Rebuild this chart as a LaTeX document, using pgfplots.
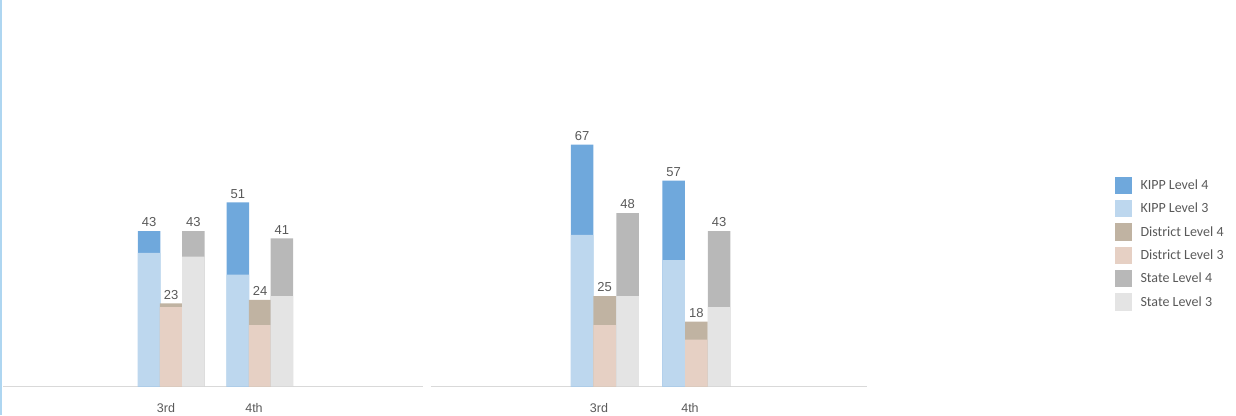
\documentclass[border=0pt]{standalone}
\usepackage{fontspec}
\setmainfont{Liberation Sans}
\newfontfamily\legfont{Carlito}
\usepackage{pgfplots}
\usepackage{pgfplotstable}
\pgfplotsset{compat=1.18}

\definecolor{kippfour}{HTML}{6FA8DC}
\definecolor{kippthree}{HTML}{BDD7EE}
\definecolor{distfour}{HTML}{C0B3A2}
\definecolor{distthree}{HTML}{E6D0C4}
\definecolor{statefour}{HTML}{B8B8B8}
\definecolor{statethree}{HTML}{E4E4E4}
\definecolor{txtgray}{HTML}{595959}
\definecolor{baseline}{HTML}{D9D9D9}
\definecolor{edgeblue}{HTML}{AED6F1}

% x = bar centre (px), level 3 and total (level 3 + level 4)
\pgfplotstableread{
kx     k3 kt  dx     d3 dt  sx     s3 st
149.2  37 43  171.2  22 23  193.3  36 43
237.8  31 51  260.0  17 24  281.8  25 41
}\leftdata
\pgfplotstableread{
kx     k3 kt  dx     d3 dt  sx     s3 st
582.0  42 67  604.7  17 25  627.7  25 48
673.7  35 57  696.3  13 18  719.2  22 43
}\rightdata

\pgfplotsset{
  panel/.style={
    scale only axis, height=386pt, ymin=0, ymax=106.9,
    axis x line=bottom, hide y axis,
    x axis line style={draw=baseline, line width=1pt, -},
    major tick length=0pt, clip=false,
    xticklabel style={font=\fontsize{12.5}{14}\selectfont, text=txtgray, anchor=base, yshift=-25.5pt},
    /pgf/number format/assume math mode=true,
  },
  bar/.style={ybar, bar width=22.5, bar shift=0pt, draw=none, fill=#1,
    legend image code/.code={\fill[fill=#1] (0pt,-8.7pt) rectangle (17.5pt,8.7pt);}},
  lab/.style={nodes near coords,
    every node near coord/.append style={font=\fontsize{13}{15}\selectfont, text=txtgray, inner sep=0pt, yshift=4pt}},
}

\begin{document}
\begin{tikzpicture}
\path[use as bounding box] (0,0) rectangle (1236pt,415pt);
\fill[edgeblue] (0,0) rectangle (2pt,415pt);

\begin{axis}[panel, at={(3.3pt,28.5pt)}, anchor=south west,
  width=420pt, xmin=3.3, xmax=423.3,
  xtick={166,254}, xticklabels={3rd,4th}]
\addplot[bar=kippfour, lab] table[x=kx, y=kt] {\leftdata};
\addplot[bar=kippthree] table[x=kx, y=k3] {\leftdata};
\addplot[bar=distfour, lab] table[x=dx, y=dt] {\leftdata};
\addplot[bar=distthree] table[x=dx, y=d3] {\leftdata};
\addplot[bar=statefour, lab] table[x=sx, y=st] {\leftdata};
\addplot[bar=statethree] table[x=sx, y=s3] {\leftdata};
\end{axis}

\begin{axis}[panel, at={(430.7pt,28.5pt)}, anchor=south west,
  width=436pt, xmin=430.7, xmax=866.7,
  xtick={599,690}, xticklabels={3rd,4th},
  legend cell align=left,
  legend style={at={(rel axis cs:1.569,0.544)}, anchor=north west, draw=none, fill=none,
    font=\legfont\fontsize{14}{16}\selectfont, text=txtgray, row sep=5.9pt, inner sep=0pt,
    nodes={inner sep=1pt}, /tikz/every odd column/.append style={column sep=7pt}}]
\addplot[bar=kippfour, lab] table[x=kx, y=kt] {\rightdata};
\addlegendentry{KIPP Level 4}
\addplot[bar=kippthree] table[x=kx, y=k3] {\rightdata};
\addlegendentry{KIPP Level 3}
\addplot[bar=distfour, lab] table[x=dx, y=dt] {\rightdata};
\addlegendentry{District Level 4}
\addplot[bar=distthree] table[x=dx, y=d3] {\rightdata};
\addlegendentry{District Level 3}
\addplot[bar=statefour, lab] table[x=sx, y=st] {\rightdata};
\addlegendentry{State Level 4}
\addplot[bar=statethree] table[x=sx, y=s3] {\rightdata};
\addlegendentry{State Level 3}
\end{axis}
\end{tikzpicture}
\end{document}
